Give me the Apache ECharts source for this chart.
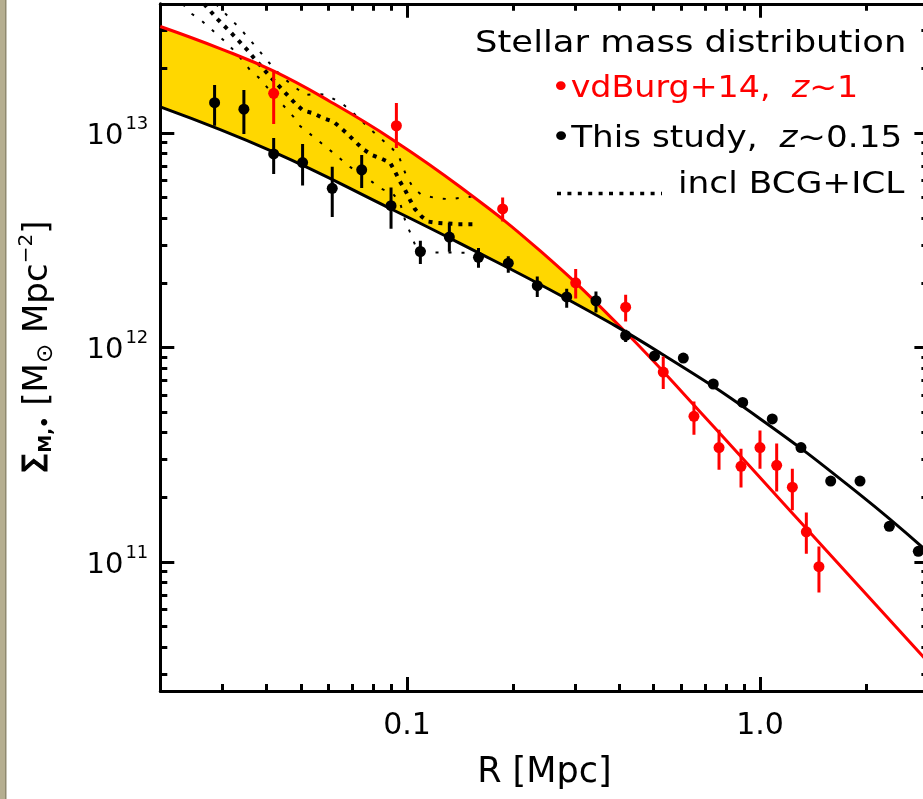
<!DOCTYPE html>
<html><head><meta charset="utf-8">
<script src="https://cdn.jsdelivr.net/npm/echarts@6/dist/echarts.min.js"></script>
<style>html,body{margin:0;padding:0;background:#fff;}#c{width:923px;height:799px;}</style>
</head><body><div id="c"></div>
<script>
// ---- tick definitions ----
const xMajorTicks = [0.1, 1.0];
const xTickLabels = ['0.1', '1.0'];
const xMinorTicks = [0.03,0.04,0.05,0.06,0.07,0.08,0.09,0.2,0.3,0.4,0.5,0.6,0.7,0.8,0.9,2];
const yMajorTicks = [1e11, 1e12, 1e13];
const yTickExponents = ['11', '12', '13'];
const yMinorTicks = [3e10,4e10,5e10,6e10,7e10,8e10,9e10,2e11,3e11,4e11,5e11,6e11,7e11,8e11,9e11,
                     2e12,3e12,4e12,5e12,6e12,7e12,8e12,9e12,2e13,3e13];

// ---- vdBurg+14, z~1 (red points) ----
const vdbR     = [0.0419,0.0933,0.1866,0.3005,0.4163,0.532,0.650,0.7655,0.8836,1.0,1.115,1.235,1.353,1.469];
const vdbSigma = [1.53e13,1.08e13,4.42e12,2.0e12,1.54e12,7.67e11,4.77e11,3.41e11,2.79e11,3.41e11,2.82e11,2.23e11,1.38e11,9.5e10];
const vdbLo    = [1.10e13,8.51e12,3.86e12,1.69e12,1.32e12,6.4e11,3.92e11,2.69e11,2.22e11,2.72e11,2.13e11,1.74e11,1.09e11,7.2e10];
const vdbHi    = [1.945e13,1.38e13,5.0e12,2.32e12,1.76e12,9.08e11,5.6e11,4.13e11,3.37e11,4.1e11,3.56e11,2.72e11,1.70e11,1.18e11];

// ---- This study, z~0.15 (black points) ----
const thisR     = [0.0285,0.0345,0.0419,0.0506,0.0614,0.0744,0.0901,0.1091,0.1318,0.1594,0.1936,0.2339,0.2834,0.3430,0.4163,
                   0.5025,0.6064,0.7373,0.8933,1.0834,1.3066,1.5861,1.9203,2.3248,2.8085];
const thisSigma = [1.384e13,1.29e13,7.98e12,7.27e12,5.52e12,6.73e12,4.58e12,2.80e12,3.27e12,2.63e12,2.47e12,1.94e12,1.72e12,1.65e12,1.137e12,
                   9.12e11,8.92e11,6.75e11,5.54e11,4.64e11,3.41e11,2.38e11,2.38e11,1.465e11,1.12e11];
const thisLo    = [1.081e13,9.89e12,6.44e12,5.68e12,4.06e12,5.54e12,3.57e12,2.45e12,2.79e12,2.35e12,2.23e12,1.72e12,1.53e12,1.456e12,1.06e12,
                   null,null,null,null,null,null,null,null,null,null];
const thisHi    = [1.674e13,1.585e13,9.48e12,8.89e12,6.95e12,7.9e12,5.56e12,3.14e12,3.81e12,2.91e12,2.66e12,2.14e12,1.876e12,1.82e12,1.21e12,
                   null,null,null,null,null,null,null,null,null,null];

// ---- fitted profiles ----
const vdbFitR     = [0.0200,0.02954,0.04181,0.06049,0.09128,0.14128,0.23807,0.40986,0.67608,1.2981,3.0];
const vdbFitSigma = [3.135e13,2.473e13,1.945e13,1.402e13,9.28e12,5.61e12,2.823e12,1.209e12,5.015e11,1.541e11,3.395e10];
const thisFitR     = [0.0200,0.04181,0.09010,0.14128,0.28333,0.52083,1.0,1.9200,3.0];
const thisFitSigma = [1.322e13,8.157e12,4.424e12,3.056e12,1.685e12,9.44e11,4.652e11,2.058e11,1.105e11];

// ---- incl BCG+ICL (dotted) ----
const iclMidR = [0.02660,0.02909,0.03200,0.03515,0.03669,0.04004,0.04397,0.04817,0.05073,0.05426,0.05793,0.06184,0.06459,0.06748,0.07126,0.07522,0.07943,0.08479,0.08951,0.09247,0.09555,0.09870,0.10198,0.10536,0.11006,0.11489,0.12265,0.13948,0.15922];
const iclMidSigma = [3.99e13,3.386e13,2.892e13,2.454e13,2.253e13,1.909e13,1.615e13,1.375e13,1.273e13,1.235e13,1.171e13,1.129e13,1.063e13,9.97e12,9.11e12,8.39e12,7.90e12,7.57e12,7.27e12,6.60e12,5.93e12,5.43e12,4.87e12,4.41e12,4.07e12,3.86e12,3.80e12,3.755e12,3.755e12];
const iclUpR = [0.02877,0.03050,0.03220,0.03364,0.03834,0.04004,0.04416,0.05140,0.05485,0.05859,0.06531,0.06896,0.08013,0.09051,0.09449,0.09761,0.09982,0.10419,0.11006,0.12139,0.13243,0.14763,0.15885];
const iclUpSigma = [3.99e13,3.612e13,3.300e13,3.074e13,2.392e13,2.188e13,1.829e13,1.503e13,1.515e13,1.512e13,1.375e13,1.280e13,1.014e13,8.49e12,7.90e12,6.85e12,6.26e12,5.53e12,5.14e12,4.96e12,4.91e12,5.02e12,5.09e12];
const iclLowR = [0.02319,0.02428,0.02593,0.02859,0.03018,0.03294,0.03590,0.03793,0.03962,0.04321,0.04764,0.04975,0.05485,0.06118,0.06896,0.07943,0.08385,0.09127,0.09555,0.09870,0.10311,0.10536,0.11099,0.11749,0.15382];
const iclLowSigma = [3.99e13,3.635e13,3.386e13,2.933e13,2.712e13,2.351e13,1.966e13,1.818e13,1.673e13,1.425e13,1.191e13,1.078e13,9.48e12,8.18e12,6.94e12,5.93e12,5.53e12,5.20e12,4.72e12,3.93e12,3.29e12,3.01e12,2.82e12,2.775e12,2.76e12];

// ---- styling ----
const FONT = 'DejaVu Sans';
const RED = '#ff0000', GOLD = '#ffd700';
const X_MIN = 0.02, X_MAX = 3, Y_MIN = 2.5e10, Y_MAX = 4e13;

function pairs(xs, ys){ return xs.map((x,i)=>[x, ys[i]]); }
function nearestIdx(arr, v){ let b=0,d=Infinity; arr.forEach((t,i)=>{const dd=Math.abs(Math.log10(t)-Math.log10(v)); if(dd<d){d=dd;b=i;}}); return b; }

function xAx(pos, ticks, len, showLine, labels){
  return {
    type:'log', logBase:10, position:pos, min:X_MIN, max:X_MAX, z:3,
    splitLine:{show:false}, minorTick:{show:false},
    axisLine:{show:showLine, onZero:false, lineStyle:{color:'#000', width:3}},
    axisTick:{show:true, inside:true, length:len, customValues:ticks, lineStyle:{color:'#000', width:3}},
    axisLabel: labels ? {show:true, customValues:ticks, margin:20, fontFamily:FONT, fontSize:30, color:'#000',
      formatter:v=>xTickLabels[nearestIdx(xMajorTicks, v)]} : {show:false}
  };
}
function yAx(pos, ticks, len, showLine, labels){
  return {
    type:'log', logBase:10, position:pos, min:Y_MIN, max:Y_MAX, z:3,
    splitLine:{show:false}, minorTick:{show:false},
    axisLine:{show:showLine, onZero:false, lineStyle:{color:'#000', width:3}},
    axisTick:{show:true, inside:true, length:len, customValues:ticks, lineStyle:{color:'#000', width:3}},
    axisLabel: labels ? {show:true, customValues:ticks, margin:12, color:'#000',
      formatter:v=>'{a|10}{b|'+yTickExponents[nearestIdx(yMajorTicks, v)]+'}',
      rich:{a:{fontFamily:FONT, fontSize:29, lineHeight:36, verticalAlign:'bottom', color:'#000'},
            b:{fontFamily:FONT, fontSize:18, lineHeight:18, verticalAlign:'top', color:'#000', padding:[0,0,0,2]}}} : {show:false}
  };
}

const xAxes = [xAx('bottom', xMajorTicks, 14, true, true), xAx('bottom', xMinorTicks, 7, false, false),
               xAx('top', xMajorTicks, 14, true, false), xAx('top', xMinorTicks, 7, false, false)];
Object.assign(xAxes[0], {name:'R [Mpc]', nameLocation:'middle', nameGap:64,
  nameTextStyle:{fontFamily:FONT, fontSize:35, color:'#000'}});
const yAxes = [yAx('left', yMajorTicks, 14, true, true), yAx('left', yMinorTicks, 7, false, false),
               yAx('right', yMajorTicks, 14, true, false), yAx('right', yMinorTicks, 7, false, false)];
Object.assign(yAxes[0], {name:'{sig|Σ}{sub|M,•} {t|[M}{od|⊙}{t| Mpc}{sup|−2}{t|]}', nameLocation:'middle', nameRotate:90, nameGap:100,
  nameTextStyle:{fontFamily:FONT, fontSize:34, color:'#000', rich:{
    sig:{fontFamily:FONT, fontSize:34, lineHeight:44, verticalAlign:'middle', color:'#000', textBorderColor:'#000', textBorderWidth:1},
    sub:{fontFamily:FONT, fontSize:18, fontWeight:'bold', lineHeight:18, verticalAlign:'bottom', color:'#000', padding:[0,0,5,0]},
    t:{fontFamily:FONT, fontSize:34, lineHeight:44, verticalAlign:'middle', color:'#000'},
    od:{fontFamily:FONT, fontSize:23, lineHeight:23, verticalAlign:'bottom', color:'#000', padding:[0,0,3,0]},
    sup:{fontFamily:FONT, fontSize:20, lineHeight:20, verticalAlign:'top', color:'#000'}
  }}});

function errBars(xs, lo, hi, color){
  const data = [];
  xs.forEach((x,i)=>{ if(lo[i]!=null && hi[i]!=null) data.push([x, lo[i], hi[i]]); });
  return {type:'custom', xAxisIndex:0, yAxisIndex:0, z:5, clip:true, silent:true, data,
    encode:{x:0, y:[1,2]},
    renderItem:(p, api)=>{
      const a = api.coord([api.value(0), api.value(1)]);
      const b = api.coord([api.value(0), api.value(2)]);
      return {type:'line', shape:{x1:a[0], y1:a[1], x2:b[0], y2:b[1]}, style:{stroke:color, lineWidth:3}};
    }};
}

const SMOOTH = 0.45;
const option = {
  animation:false,
  backgroundColor:'#ffffff',
  grid:{left:160.3, right:-5.4, top:3.8, bottom:108, containLabel:false, outerBoundsMode:'none'},
  xAxis:xAxes, yAxis:yAxes,
  series:[
    // yellow band under the z~1 fit, then white under the z~0.15 fit (leaves the band between)
    {type:'line', z:1, silent:true, data:pairs(vdbFitR, vdbFitSigma), smooth:SMOOTH, showSymbol:false, symbol:'none',
     lineStyle:{width:0, opacity:0}, areaStyle:{color:GOLD, opacity:1, origin:'start'}},
    {type:'line', z:2, silent:true, data:pairs(thisFitR, thisFitSigma), smooth:SMOOTH, showSymbol:false, symbol:'none',
     lineStyle:{width:0, opacity:0}, areaStyle:{color:'#ffffff', opacity:1, origin:'start'}},
    // ICL dotted curves
    {type:'line', z:4, silent:true, data:pairs(iclLowR, iclLowSigma), showSymbol:false, symbol:'none',
     lineStyle:{color:'#000', width:2, type:[3,10]}},
    {type:'line', z:4, silent:true, data:pairs(iclUpR, iclUpSigma), showSymbol:false, symbol:'none',
     lineStyle:{color:'#000', width:2, type:[3,10]}},
    {type:'line', z:4, silent:true, data:pairs(iclMidR, iclMidSigma), showSymbol:false, symbol:'none',
     lineStyle:{color:'#000', width:4, type:[4,6]}},
    // fits
    {type:'line', z:4, silent:true, data:pairs(vdbFitR, vdbFitSigma), smooth:SMOOTH, showSymbol:false, symbol:'none',
     lineStyle:{color:RED, width:3}},
    {type:'line', z:4, silent:true, data:pairs(thisFitR, thisFitSigma), smooth:SMOOTH, showSymbol:false, symbol:'none',
     lineStyle:{color:'#000', width:3}},
    // error bars
    errBars(vdbR, vdbLo, vdbHi, RED),
    errBars(thisR, thisLo, thisHi, '#000'),
    // points
    {type:'scatter', z:6, silent:true, data:pairs(thisR, thisSigma), symbol:'circle', symbolSize:11, itemStyle:{color:'#000', opacity:1}},
    {type:'scatter', z:6, silent:true, data:pairs(vdbR, vdbSigma), symbol:'circle', symbolSize:11, itemStyle:{color:RED, opacity:1}}
  ],
  graphic:[
    {type:'rect', silent:true, shape:{x:0, y:0, width:5, height:799}, style:{fill:'#b5ae90'}},
    {type:'rect', silent:true, shape:{x:5, y:0, width:1.5, height:799}, style:{fill:'#8f896f'}},
    {type:'text', silent:true, x:475, y:44, scaleX:1.18, z:10,
     style:{text:'Stellar mass distribution', fontFamily:FONT, fontSize:30, fill:'#000', align:'left', verticalAlign:'middle'}},
    {type:'text', silent:true, x:551, y:89, scaleX:1.11, z:10,
     style:{text:'•vdBurg+14,  {z|z}~1', fontFamily:FONT, fontSize:30, fill:RED, align:'left', verticalAlign:'middle',
       rich:{z:{fontFamily:FONT, fontSize:30, fontStyle:'italic', fill:RED}}}},
    {type:'text', silent:true, x:551, y:139, scaleX:1.14, z:10,
     style:{text:'•This study,  {z|z}~0.15', fontFamily:FONT, fontSize:30, fill:'#000', align:'left', verticalAlign:'middle',
       rich:{z:{fontFamily:FONT, fontSize:30, fontStyle:'italic', fill:'#000'}}}},
    {type:'line', silent:true, z:10, shape:{x1:557, y1:193.5, x2:662, y2:193.5},
     style:{stroke:'#000', lineWidth:3.5, lineDash:[4,6.4]}},
    {type:'text', silent:true, x:678, y:185, scaleX:1.146, z:10,
     style:{text:'incl BCG+ICL', fontFamily:FONT, fontSize:30, fill:'#000', align:'left', verticalAlign:'middle'}}
  ]
};
const chart = echarts.init(document.getElementById('c'), null, {renderer:'canvas'});
chart.setOption(option);
</script></body></html>
